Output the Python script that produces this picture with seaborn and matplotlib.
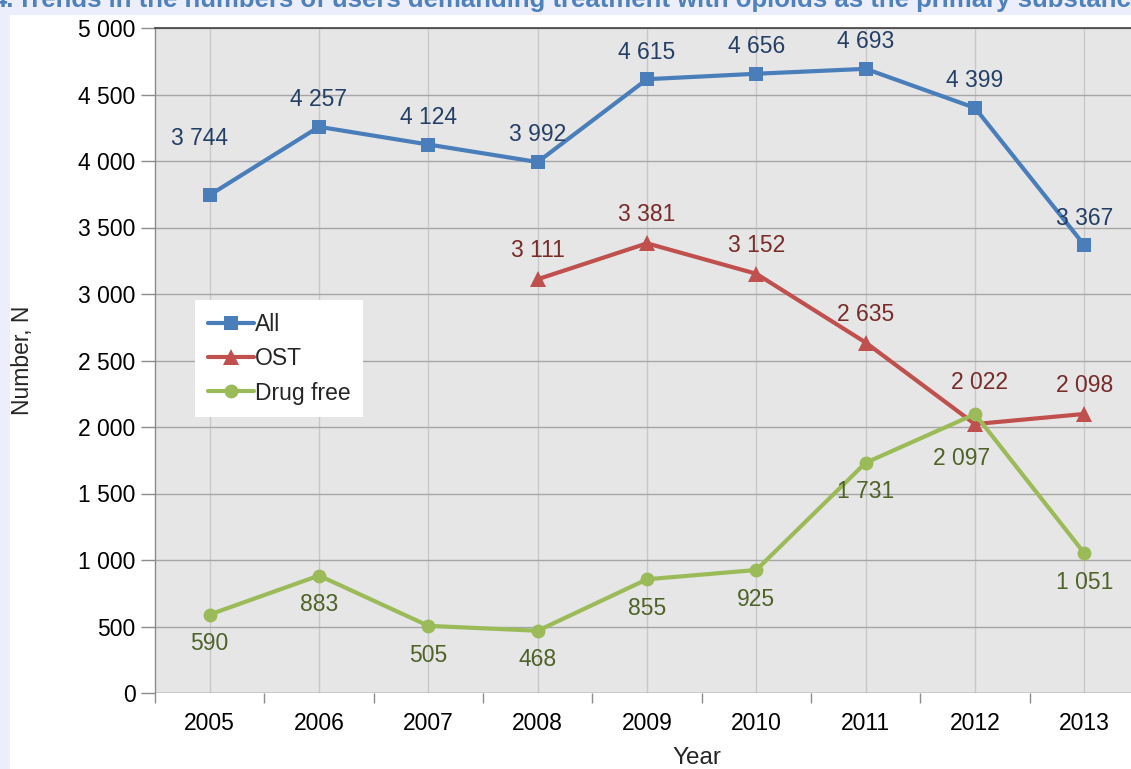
import matplotlib
matplotlib.use("Agg")
import matplotlib.pyplot as plt
import matplotlib.patches as mpatches
from matplotlib.ticker import FuncFormatter, FixedLocator
import seaborn as sns
import pandas as pd
import numpy as np

years = [2005, 2006, 2007, 2008, 2009, 2010, 2011, 2012, 2013]
all_users = [3744, 4257, 4124, 3992, 4615, 4656, 4693, 4399, 3367]
ost = [np.nan, np.nan, np.nan, 3111, 3381, 3152, 2635, 2022, 2098]
drug_free = [590, 883, 505, 468, 855, 925, 1731, 2097, 1051]

series_names = ["All", "OST", "Drug free"]
colors = {"All": "#4A7EBB", "OST": "#C0504D", "Drug free": "#9BBB59"}
label_colors = {"All": "#243F66", "OST": "#772C2A", "Drug free": "#4F6228"}
markers = {"All": "s", "OST": "^", "Drug free": "o"}

sns.set_theme(style="white")
plt.rcParams["font.family"] = ["Liberation Sans", "DejaVu Sans"]

FS = 16.5

df = pd.DataFrame({
    "Year": years * 3,
    "Value": all_users + ost + drug_free,
    "Series": ["All"] * 9 + ["OST"] * 9 + ["Drug free"] * 9,
})

fig = plt.figure(figsize=(11.31, 7.69), dpi=100)
fig.patch.set_facecolor("#ECEFFB")
bg = mpatches.Rectangle((10 / 1131, 0), 1, 1 - 15 / 769,
                        transform=fig.transFigure, facecolor="white",
                        edgecolor="none", zorder=-10)
fig.patches.append(bg)

ax = fig.add_axes([155 / 1131, 76 / 769, 984 / 1131, 665 / 769])
ax.set_zorder(1)
ax.set_facecolor("#E6E6E6")

for name in series_names:
    sub = df[df["Series"] == name].dropna()
    sns.lineplot(data=sub, x="Year", y="Value", ax=ax, color=colors[name],
                 marker=markers[name], markersize=10 if name != "OST" else 12,
                 markeredgewidth=0, linewidth=3, label=name, zorder=3)

ax.set_xlim(2004.5, 2013.5)
ax.set_ylim(0, 5000)
ax.set_yticks(np.arange(0, 5001, 500))
ax.yaxis.set_major_formatter(FuncFormatter(lambda v, p: f"{int(v):,}".replace(",", " ")))
ax.set_xticks(years)
ax.set_xticklabels([str(y) for y in years])
ax.xaxis.set_minor_locator(FixedLocator(np.arange(2004.5, 2014, 1)))

ax.grid(axis="y", color="#A6A6A6", linewidth=1)
ax.grid(axis="x", color="#C8C8C8", linewidth=1)
ax.set_axisbelow(True)

for s in ["right", "bottom"]:
    ax.spines[s].set_visible(False)
ax.spines["top"].set_color("#404040")
ax.spines["top"].set_linewidth(1.2)
ax.spines["left"].set_color("#8C8C8C")
ax.spines["left"].set_linewidth(1)

ax.tick_params(axis="y", which="major", length=10, color="#8C8C8C", width=1,
               labelsize=FS, labelcolor="black", pad=4, left=True)
ax.tick_params(axis="x", which="major", length=0, labelsize=FS, labelcolor="black", pad=14)
ax.tick_params(axis="x", which="minor", length=7, color="#8C8C8C", width=1, bottom=True)
ax.axhline(0, color="#8C8C8C", linewidth=1, zorder=2)

ax.set_xlabel("Year", fontsize=17.5, labelpad=11)
ax.xaxis.set_label_coords((697 - 155) / 984, -0.098)
ax.xaxis.label.set_va("center")
ax.set_ylabel("Number, N", fontsize=FS, labelpad=32)

def fmt(v):
    return f"{int(v):,}".replace(",", " ")

default_off = {"All": (0, 19.5), "OST": (0, 20.5), "Drug free": (0, -21)}
special = {("All", 2005): (-7, 41), ("OST", 2012): (3, 30), ("Drug free", 2012): (-10, -32)}
series_vals = {"All": all_users, "OST": ost, "Drug free": drug_free}
for name in series_names:
    for yr, v in zip(years, series_vals[name]):
        if np.isnan(v):
            continue
        dx, dy = special.get((name, yr), default_off[name])
        ax.annotate(fmt(v), (yr, v), xytext=(dx, dy), textcoords="offset points",
                    ha="center", va="center", fontsize=FS, color=label_colors[name],
                    zorder=5)

leg = ax.legend(loc="upper left", bbox_to_anchor=(0.041, 0.591), frameon=True,
                fancybox=False, framealpha=1, edgecolor="white", facecolor="white",
                fontsize=FS, handlelength=2.0, handletextpad=0.05, labelspacing=0.5,
                borderpad=0.55, borderaxespad=0)
leg.get_frame().set_linewidth(0)

# title, clipped at the top edge as in the reference
fig.text(17 / 1131, 1 - 7 / 769,
         "Trends in the numbers of users demanding treatment with opioids as the primary substance",
         ha="left", va="baseline", fontsize=18.5, fontweight="bold", color="#4F81BD")
fig.text(14 / 1131, 1 - 7 / 769, "4.", ha="right", va="baseline", fontsize=18.5,
         fontweight="bold", color="#4F81BD")

fig.savefig("out.png", dpi=100, facecolor=fig.get_facecolor())
